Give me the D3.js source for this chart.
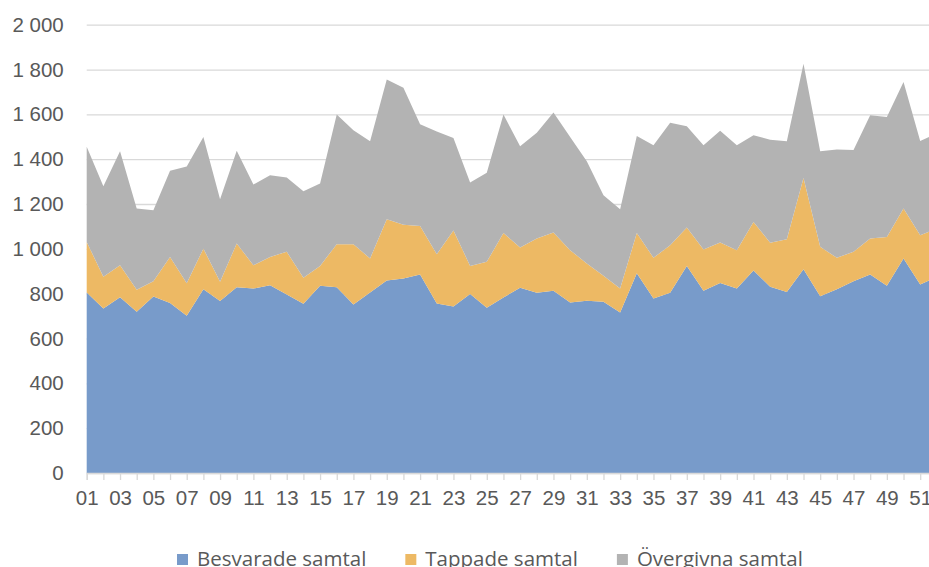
<!DOCTYPE html>
<html>
<head>
<meta charset="utf-8">
<script src="https://cdn.jsdelivr.net/npm/d3@7"></script>
<style>
  body { margin: 0; background: #fff; }
  svg { display: block; font-family: "Open Sans", sans-serif; }
  .grid line { stroke: #d9d9d9; stroke-width: 1.3; }
  .grid .domain { display: none; }
  .axis text, .legend text { fill: #595959; font-size: 20.5px; }
  .xaxis line, .xaxis path { stroke: #d9d9d9; stroke-width: 1.3; }
</style>
</head>
<body>
<svg id="chart" width="929" height="567"></svg>
<script>
const
  left = 86.7, // x of week 01
  step = 16.67, // px per week
  yZero = 473,
  yTop = 24.7;

// weeks 1..52
const weeks = d3.range(1, 53);
const besvarade = [805, 734, 784, 719, 787, 758, 701, 820, 767, 829, 823, 838, 796, 755, 835, 829, 752, 805, 859, 868,
  886, 756, 743, 799, 737, 783, 826, 804, 813, 761, 768, 764, 716, 891, 779, 804, 924, 813, 848, 823,
  903, 831, 807, 909, 789, 820, 856, 886, 835, 957, 841, 875];
const tappade = [226, 141, 143, 98, 69, 206, 146, 181, 86, 195, 104, 126, 191, 116, 89, 192, 269, 152, 273, 240,
  216, 220, 339, 125, 205, 288, 180, 242, 260, 233, 167, 116, 107, 180, 181, 212, 171, 184, 180, 171,
  217, 196, 236, 407, 220, 140, 131, 160, 218, 223, 220, 214];
const overgivna = [424, 404, 508, 363, 316, 384, 520, 498, 368, 414, 360, 364, 331, 386, 367, 578, 508, 523, 624, 611,
  454, 548, 413, 372, 398, 528, 452, 472, 535, 505, 456, 359, 354, 433, 502, 547, 452, 465, 499, 468,
  387, 460, 437, 510, 426, 483, 454, 550, 535, 564, 420, 426];
const seriesNames = ['Besvarade samtal', 'Tappade samtal', 'Övergivna samtal'];
const colors = ['#789bca', '#edb964', '#b3b3b3'];
const yTicks = d3.range(0, 2001, 200);

const rows = weeks.map((w, i) => ({week: w, b: besvarade[i], t: tappade[i], o: overgivna[i]}));

const svg = d3.select('#chart');
const x = d3.scaleLinear().domain([1, 52]).range([left, left + 51 * step]);
const y = d3.scaleLinear().domain([0, 2000]).range([yZero, yTop]);

const locale = d3.formatLocale({decimal: ',', thousands: ' ', grouping: [3], currency: ['', '']});
const fmt = locale.format(',');

// gridlines + y labels
svg.append('g')
  .attr('class', 'axis grid')
  .attr('transform', 'translate(' + left + ',0)')
  .call(d3.axisLeft(y).tickValues(yTicks).tickSize(-(929 - left)).tickPadding(23).tickFormat(fmt));

// stacked areas
const stack = d3.stack().keys(['b', 't', 'o']);
const area = d3.area()
  .x(d => x(d.data.week))
  .y0(d => y(d[0]))
  .y1(d => y(d[1]));

svg.append('g')
  .selectAll('path')
  .data(stack(rows))
  .join('path')
  .attr('fill', (d, i) => colors[i])
  .attr('d', area);

// x axis
svg.append('g')
  .attr('class', 'axis xaxis')
  .attr('transform', 'translate(0,' + yZero + ')')
  .call(d3.axisBottom(x).tickValues(weeks).tickSize(7).tickPadding(10)
    .tickFormat(w => w % 2 === 1 ? d3.format('02')(w) : ''));

// legend
const legend = svg.append('g').attr('class', 'legend');
let lx = 177;
seriesNames.forEach((name, i) => {
  legend.append('rect')
    .attr('x', lx).attr('y', 554)
    .attr('width', 11).attr('height', 11)
    .attr('fill', colors[i]);
  const t = legend.append('text')
    .attr('x', lx + 20).attr('y', 566)
    .text(name);
  lx += 20 + t.node().getComputedTextLength() + 39;
});
</script>
</body>
</html>
